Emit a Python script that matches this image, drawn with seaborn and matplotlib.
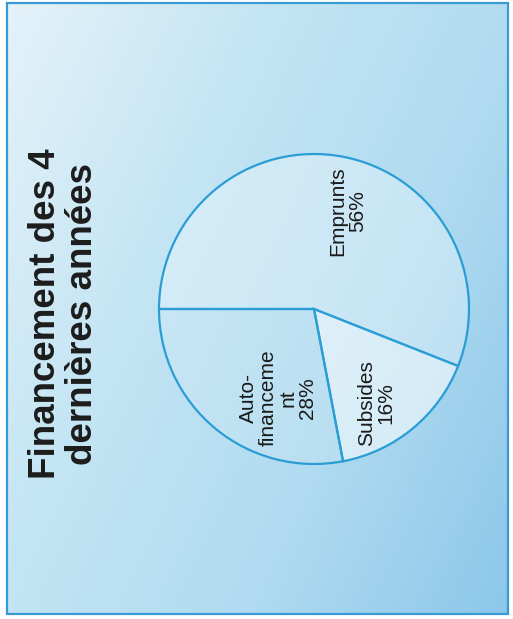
import numpy as np
import matplotlib
matplotlib.use("Agg")
import matplotlib.pyplot as plt
from matplotlib.patches import Rectangle
import seaborn as sns

# Financement des 4 dernières années (parts en %)
categories = ["Emprunts", "Subsides", "Auto-\nfinanceme\nnt"]
shares = [56, 16, 28]

# position of each label inside the pie (pie radius = 1)
label_pos = [(0.22, 0.63), (0.40, -0.61), (-0.23, -0.575)]

sns.set_theme(style="white")
plt.rcParams['font.family'] = ['Liberation Sans', 'DejaVu Sans']

W, H = 513, 619
fig = plt.figure(figsize=(W / 100, H / 100), dpi=100)
fig.patch.set_facecolor("white")

# bluish gradient background inside the frame
bg = fig.add_axes([7 / W, 5 / H, 501 / W, 611 / H])
gx, gy = np.meshgrid(np.linspace(0, 1, 300), np.linspace(0, 1, 300))
grad = 0.7 * gx + 0.4 * gy
cmap = sns.blend_palette(["#e4f2f9", "#c4e5f4", "#b0dbf0", "#8cc7ea"], as_cmap=True)
bg.imshow(grad, cmap=cmap, aspect="auto", origin="upper", extent=(0, 1, 0, 1))
bg.set_axis_off()

fig.patches.append(Rectangle((7 / W, 5 / H), 501 / W, 611 / H, transform=fig.transFigure,
                             fill=False, edgecolor="#3a9ad6", linewidth=1.6))

# pie, rotated a quarter turn like the scanned page
ax = fig.add_axes([159 / W, 155 / H, 310 / W, 310 / H])
ax.set_facecolor("none")
wedges, _ = ax.pie(shares, startangle=180, counterclock=False,
                   colors=["white", "white", "white"],
                   wedgeprops=dict(edgecolor="#2a9dd5", linewidth=1.6))
alphas = [0.3, 0.55, 0.12]
for w, a in zip(wedges, alphas):
    w.set_facecolor((1, 1, 1, a))
    w.set_clip_on(False)
ax.set_xlim(-1, 1)
ax.set_ylim(-1, 1)
ax.set_aspect("auto")
ax.set_axis_off()

for cat, val, (lx, ly) in zip(categories, shares, label_pos):
    ax.text(lx, ly, f"{cat}\n{val}%", rotation=90, ha="center", va="center",
            multialignment="center", fontsize=15, color="#1a1a1a", linespacing=1.05)

fig.text(64 / W, 1 - 314 / H, "Financement des 4\ndernières années", rotation=90,
         ha="center", va="center", multialignment="center", fontsize=26.5,
         fontweight="bold", color="#1c1c1c", linespacing=1.1)

fig.savefig("out.png", dpi=100)
